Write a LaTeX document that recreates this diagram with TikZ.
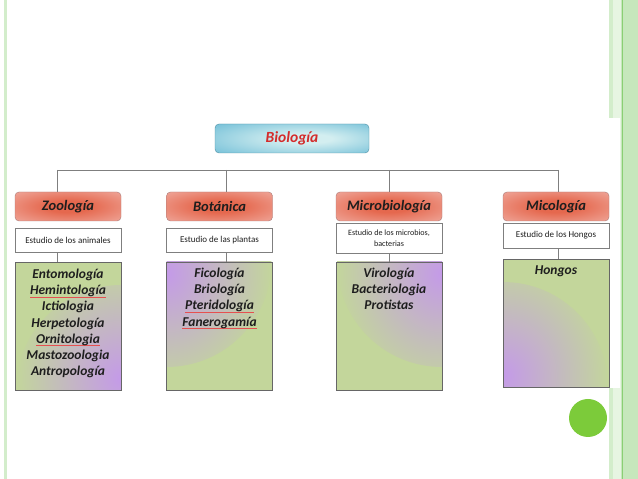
\documentclass[tikz,border=0pt]{standalone}
\usepackage{fontspec}
\setmainfont{Carlito}
\usepackage{xcolor}
\usetikzlibrary{calc}

\definecolor{biofill}{HTML}{6CBCD6}
\definecolor{bioglow}{HTML}{D3EEF0}
\definecolor{bioline}{HTML}{4F8FA3}
\definecolor{biored}{HTML}{D42B2B}
\definecolor{headfill}{HTML}{F2B8AF}
\definecolor{headglow}{HTML}{E5684E}
\definecolor{headline}{HTML}{A87A78}
\definecolor{olivebox}{HTML}{C3D69B}
\definecolor{lilac}{HTML}{C49AE8}
\definecolor{ink}{HTML}{1E1E1E}
\definecolor{linkgray}{HTML}{7F7F7F}
\definecolor{paleleaf}{HTML}{D3EDCB}
\definecolor{leaf}{HTML}{C6E7BC}
\definecolor{leafline}{HTML}{8ACF74}
\definecolor{dot}{HTML}{7CCB3A}
\definecolor{spellred}{HTML}{E65050}

\pgfdeclareradialshading{headshade}{\pgfpoint{0bp}{0bp}}{color(0bp)=(headglow);
  color(10bp)=(headglow); color(44bp)=(headfill); color(50bp)=(headfill)}
\pgfdeclareradialshading{bioshade}{\pgfpoint{6bp}{0bp}}{color(0bp)=(bioglow);
  color(8bp)=(bioglow); color(40bp)=(biofill); color(50bp)=(biofill)}

\newsavebox{\spellbox}
\newcommand{\spell}[1]{\leavevmode\sbox{\spellbox}{#1}%
  \rlap{\color{spellred}\rule[-2.4pt]{\wd\spellbox}{0.5pt}}\usebox{\spellbox}}

\begin{document}
\begin{tikzpicture}[x=1pt, y=1pt,
  topbox/.style={draw=bioline, rounded corners=4pt, shading=bioshade,
    minimum width=154pt, minimum height=29pt, text=biored,
    font=\fontsize{15.5}{17}\selectfont\bfseries\itshape},
  headbox/.style={draw=headline, rounded corners=4pt, shading=headshade,
    minimum width=106pt, minimum height=29pt, text=ink,
    font=\fontsize{14.5}{16}\selectfont\bfseries\itshape},
  descbox/.style={draw=linkgray, fill=white, minimum width=106pt, align=center, inner sep=1pt,
    font=\fontsize{9}{10}\selectfont, text=ink},
  listbox/.style={draw=black!60, fill=olivebox, minimum width=106pt, minimum height=128pt,
    path picture={\shade[inner color=lilac, outer color=olivebox]
      (path picture bounding box.#1) circle (105pt);}},
  items/.style={anchor=north, align=center, text=ink, inner sep=0pt,
    font=\fontsize{13.5}{16.2}\selectfont\bfseries\itshape},
  link/.style={draw=linkgray, line width=0.9pt}]

  \useasboundingbox (0,0) rectangle (638,479);

  % slide border
  \draw[paleleaf, line width=2.5pt] (5.5,0) -- (5.5,479);
  \fill[paleleaf] (609,0) rectangle (613,479);
  \fill[paleleaf!55] (613,0) rectangle (621,479);
  \fill[white] (600,91) rectangle (620,361);
  \fill[leaf] (621,0) rectangle (638,479);
  \draw[leafline, line width=1.2pt] (622.5,0) -- (622.5,479);
  \fill[dot] (588,61) circle (19);

  % top
  \node[topbox] (bio) at (292,340.5) {Biología};

  % branches
  \node[headbox] (zoo) at (68,272.5) {Zoología};
  \node[headbox] (bot) at (219.5,272.5) {Botánica};
  \node[headbox] (mic) at (389,272.5) {Microbiología};
  \node[headbox] (myc) at (556,272.5) {Micología};

  \node[descbox, minimum height=24pt] (zoodesc) at (68,239) {Estudio de los animales};
  \node[descbox, minimum height=24pt] (botdesc) at (219.5,239) {Estudio de las plantas};
  \node[descbox, minimum height=30pt, font=\fontsize{8.1}{11}\selectfont] (micdesc) at (389,241)
    {Estudio de los microbios,\\ bacterias};
  \node[descbox, minimum height=25pt] (mycdesc) at (556,243.5) {Estudio de los Hongos};

  \node[listbox=south east] (zoolist) at (68,153) {};
  \node[listbox=north west] (botlist) at (219.5,153) {};
  \node[listbox=north east] (miclist) at (389,153) {};
  \node[listbox=south west] (myclist) at (556,156) {};

  \node[items] (zooitems) at ($(zoolist.north)+(0,-7)$)
    {Entomología\\ \spell{Hemintología}\\ Ictiologia\\ Herpetología\\
     \spell{Ornitologia}\\ Mastozoologia\\ Antropología};
  \node[items] (botitems) at ($(botlist.north)+(0,-6)$)
    {Ficología\\ Briología\\ \spell{Pteridología}\\ \spell{Fanerogamía}};
  \node[items] (micitems) at ($(miclist.north)+(0,-6)$)
    {Virología\\ Bacteriologia\\ Protistas};
  \node[items] (mycitems) at ($(myclist.north)+(0,-7)$) {Hongos};

  % connectors
  \coordinate (zoobus) at (57,309);
  \coordinate (botbus) at (226,309);
  \coordinate (micbus) at (389,309);
  \coordinate (mycbus) at (558,309);

  \draw[link] (zoobus) -- (mycbus);
  \draw[link] (zoobus) -- (zoobus |- zoo.north);
  \draw[link] (botbus) -- (botbus |- bot.north);
  \draw[link] (micbus) -- (micbus |- mic.north);
  \draw[link] (mycbus) -- (mycbus |- myc.north);

  \draw[link] (zoodesc.south -| zoobus) -- (zoolist.north -| zoobus);
  \draw[link] (botdesc.south -| botbus) -- (botlist.north -| botbus);
  \draw[link] (micdesc.south -| micbus) -- (miclist.north -| micbus);
  \draw[link] (mycdesc.south -| mycbus) -- (myclist.north -| mycbus);
\end{tikzpicture}
\end{document}
